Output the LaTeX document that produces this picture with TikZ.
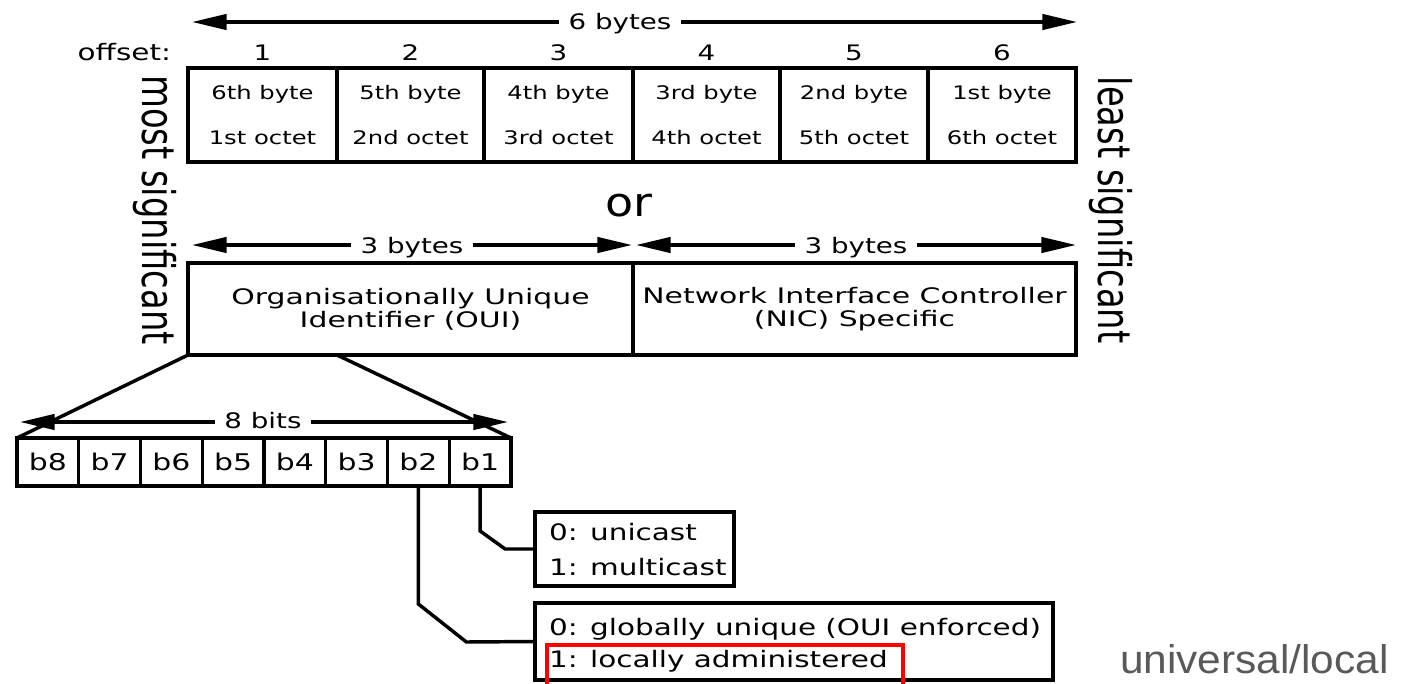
\documentclass[tikz,border=0pt]{standalone}
\usepackage{fontspec}
\setmainfont{DejaVu Sans}
\newfontfamily\ulfont{Liberation Sans}
\usetikzlibrary{arrows.meta}
\definecolor{ulgray}{RGB}{89,89,89}
\newcommand\hs[2][1.3]{\scalebox{#1}[1]{#2}}
\tikzset{dimtip/.tip={Triangle[length=26pt,width=11.5pt]}}
\begin{document}
\begin{tikzpicture}[x=0.75pt,y=-0.75pt,
  every node/.style={outer sep=0pt},
  cellsz/.style 2 args={minimum width=#1*0.75pt, minimum height=#2*0.75pt},
  frame/.style={draw, line width=2.6pt, inner sep=0pt},
  dimline/.style={line width=2.5pt, dimtip-dimtip},
  dimlabel/.style={fill=white, inner xsep=7pt, inner ysep=1pt, anchor=base, font=\fontsize{16}{16}\selectfont},
  bytetext/.style={align=center, font=\fontsize{14}{33.75}\selectfont},
  offs/.style={anchor=base, inner sep=0pt, font=\fontsize{16}{16}\selectfont},
  bittext/.style={font=\fontsize{17.25}{17.25}\selectfont},
  fieldtext/.style={align=center, font=\fontsize{16}{17.25}\selectfont},
  opttext/.style={anchor=base west, inner sep=0pt, font=\fontsize{17}{17}\selectfont},
  side/.style={rotate=-90, anchor=base, inner sep=0pt, font=\fontsize{33.75}{34}\selectfont},
  wire/.style={line width=2.6pt},
]
\useasboundingbox (0,0) rectangle (1401,684);
\clip (0,0) rectangle (1401,684);
\fill[white] (0,0) rectangle (1401,684);

% 6 bytes dimension
\coordinate (s6l) at (192,22);
\coordinate (s6r) at (1077,22);
\draw[dimline] (s6l) -- (s6r);
\node[dimlabel] (l6) at (620,30) {\hs{6 bytes}};

% offsets
\node[offs, anchor=base east, font=\fontsize{17}{17}\selectfont] (olab) at (171,61) {\hs{offset:}};
\node[offs] (o1) at (262.5,61) {\hs{1}};
\node[offs] (o2) at (410.5,61) {\hs{2}};
\node[offs] (o3) at (558.5,61) {\hs{3}};
\node[offs] (o4) at (706.5,61) {\hs{4}};
\node[offs] (o5) at (854,61) {\hs{5}};
\node[offs] (o6) at (1002,61) {\hs{6}};

% byte cells
\node[frame, cellsz={149}{94}, bytetext] (c1) at (262.5,115) {\hs{6th byte}\\\hs{1st octet}};
\node[frame, cellsz={147}{94}, bytetext] (c2) at (410.5,115) {\hs{5th byte}\\\hs{2nd octet}};
\node[frame, cellsz={149}{94}, bytetext] (c3) at (558.5,115) {\hs{4th byte}\\\hs{3rd octet}};
\node[frame, cellsz={147}{94}, bytetext] (c4) at (706.5,115) {\hs{3rd byte}\\\hs{4th octet}};
\node[frame, cellsz={148}{94}, bytetext] (c5) at (854,115) {\hs{2nd byte}\\\hs{5th octet}};
\node[frame, cellsz={148}{94}, bytetext] (c6) at (1002,115) {\hs{1st byte}\\\hs{6th octet}};

% side labels
\node[side] (ms) at (142,210) {\scalebox{0.75}[1]{most significant}};
\node[side] (ls) at (1098,210) {\scalebox{0.75}[1]{least significant}};

% or
\node[anchor=base, inner sep=0pt, font=\fontsize{30}{30}\selectfont] (or) at (629,217) {\hs[1.15]{or}};

% 3 bytes dimensions
\coordinate (s3a) at (192,245);
\coordinate (s3b) at (632,245);
\coordinate (s3c) at (636,245);
\coordinate (s3d) at (1076,245);
\draw[dimline] (s3a) -- (s3b);
\draw[dimline] (s3c) -- (s3d);
\node[dimlabel] (l3a) at (412,253) {\hs{3 bytes}};
\node[dimlabel] (l3b) at (856,253) {\hs{3 bytes}};

% OUI / NIC
\node[frame, cellsz={445}{92}, fieldtext] (oui) at (410.5,309) {\hs[1.4]{Organisationally Unique}\\\hs[1.4]{Identifier (OUI)}};
\node[frame, cellsz={443}{92}, fieldtext] (nic) at (854.5,309) {\hs[1.4]{Network Interface Controller}\\\hs[1.4]{(NIC) Specific}};

% bits
\foreach \n [count=\i from 0] in {8,7,6,5,4,3,2,1} {
  \node[frame, cellsz={61.75}{48}, bittext] (b\n) at ({17+61.75*(\i+0.5)},462) {\hs{b\n}};
}

% expansion lines
\draw[wire] (oui.south west) -- (b8.north west);
\draw[wire] (c1.east |- oui.south) -- (b1.north east);

% 8 bits dimension
\coordinate (s8l) at (20,422);
\coordinate (s8r) at (508,422);
\draw[dimline] (s8l) -- (s8r);
\node[dimlabel] (l8) at (263,428) {\hs{8 bits}};

% option boxes
\node[frame, cellsz={199}{74}] (opt1) at (634.5,549) {};
\node[frame, cellsz={518}{77}] (opt2) at (794,641.5) {};
\node[opttext] (t1) at (549,540) {\hs{0: unicast}};
\node[opttext] (t2) at (549,575) {\hs{1: multicast}};
\node[opttext] (t3) at (549,635) {\hs{0: globally unique (OUI enforced)}};
\node[opttext] (t4) at (549,667) {\hs{1: locally administered}};

% connectors
\draw[wire] (b1.south) -- ++(0,45) -- ++(25,18) -- (opt1.west);
\draw[wire] (b2.south) -- ++(0,118) -- ++(48,38) -- (opt2.west);

% highlight
\node[draw=red, line width=3.4pt, cellsz={356}{60}, inner sep=0pt] (hl) at (725,675) {};

% annotation
\node[anchor=base west, inner sep=0pt, text=ulgray, font=\ulfont\fontsize{30}{30}\selectfont] (ul) at (1120,673) {\hs[1.06]{universal/local}};
\end{tikzpicture}
\end{document}
